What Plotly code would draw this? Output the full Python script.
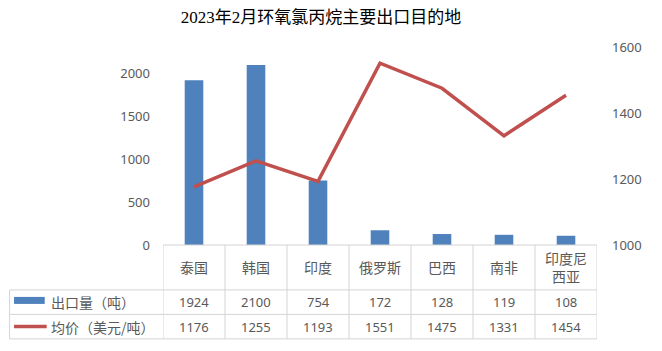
import plotly.graph_objects as go

title = "2023年2月环氧氯丙烷主要出口目的地"
categories = ["泰国", "韩国", "印度", "俄罗斯", "巴西", "南非", "印度尼西亚"]
category_labels = ["泰国", "韩国", "印度", "俄罗斯", "巴西", "南非", "印度尼<br>西亚"]
volume_name = "出口量（吨）"
price_name = "均价（美元/吨）"
volume = [1924, 2100, 754, 172, 128, 119, 108]
price = [1176, 1255, 1193, 1551, 1475, 1331, 1454]
left_ticks = [0, 500, 1000, 1500, 2000]
right_ticks = [1000, 1200, 1400, 1600]

OFF = 8  # page body margin
W, H = 662 - 2 * OFF, 351 - 2 * OFF
# page-pixel positions of the plot area
PL, PR = 162.5, 601.0
PT, PB = 46.7, 245.0
BLUE = "#4F81BD"
RED = "#C0504D"
GRID = "#D4D4D4"
TXT = "#595959"


def px(x):
    return (x - PL) / (PR - PL)


def py(y):
    return (PB - y) / (PB - PT)


xs = list(range(len(categories)))
fig = go.Figure()
fig.add_trace(go.Bar(x=xs, y=volume, name=volume_name, marker=dict(color=BLUE, line=dict(width=0)),
                     width=0.3, yaxis="y"))
fig.add_trace(go.Scatter(x=xs, y=price, name=price_name, mode="lines",
                         line=dict(color=RED, width=3.5), yaxis="y2"))

shapes = []
shapes.append(dict(type="line", xref="paper", yref="paper", x0=0, x1=1, y0=py(245), y1=py(245),
                   line=dict(color=GRID, width=1)))
for yy in [290, 314.5, 339]:
    shapes.append(dict(type="line", xref="paper", yref="paper", x0=px(7.5), x1=1, y0=py(yy), y1=py(yy),
                       line=dict(color=GRID, width=1)))
for k in range(len(categories) + 1):
    shapes.append(dict(type="line", xref="x", yref="paper", x0=k - 0.5, x1=k - 0.5, y0=py(245), y1=py(339),
                       line=dict(color=GRID, width=1)))
shapes.append(dict(type="line", xref="paper", yref="paper", x0=px(7.5), x1=px(7.5), y0=py(290), y1=py(339),
                   line=dict(color=GRID, width=1)))
shapes.append(dict(type="rect", xref="paper", yref="paper", x0=px(12), x1=px(43), y0=py(304), y1=py(297),
                   fillcolor=BLUE, line=dict(width=0)))
shapes.append(dict(type="line", xref="paper", yref="paper", x0=px(12), x1=px(45), y0=py(326.5), y1=py(326.5),
                   line=dict(color=RED, width=3.5)))

ann = []
for i, lab in enumerate(category_labels):
    ann.append(dict(x=i, y=py(267.5), xref="x", yref="paper", text=lab, showarrow=False,
                    font=dict(size=14, color=TXT, family="Noto Sans CJK SC"), xanchor="center", yanchor="middle"))
    ann.append(dict(x=i, y=py(302), xref="x", yref="paper", text=str(volume[i]), showarrow=False,
                    font=dict(size=13, color=TXT, family="Noto Sans"), xanchor="center", yanchor="middle"))
    ann.append(dict(x=i, y=py(327), xref="x", yref="paper", text=str(price[i]), showarrow=False,
                    font=dict(size=13, color=TXT, family="Noto Sans"), xanchor="center", yanchor="middle"))
ann.append(dict(x=px(47), y=py(302), xref="paper", yref="paper", text=volume_name, showarrow=False,
                font=dict(size=14, color=TXT, family="Noto Sans CJK SC"), xanchor="left", yanchor="middle"))
ann.append(dict(x=px(47), y=py(327), xref="paper", yref="paper", text=price_name, showarrow=False,
                font=dict(size=14, color=TXT, family="Noto Sans CJK SC"), xanchor="left", yanchor="middle"))

fig.update_layout(
    width=W, height=H, autosize=False,
    margin=dict(l=PL - OFF, r=W - (PR - OFF), t=PT - OFF, b=H - (PB - OFF), pad=0),
    paper_bgcolor="white", plot_bgcolor="white",
    showlegend=False,
    title=dict(text=title, x=(321 - OFF) / W, xanchor="center", y=1 - (17.5 - OFF) / H, yanchor="middle",
               font=dict(size=17, color="black", family="Liberation Serif, Noto Sans CJK SC")),
    xaxis=dict(range=[-0.5, len(categories) - 0.5], showticklabels=False, showgrid=False,
               zeroline=False, showline=False, ticks=""),
    yaxis=dict(range=[0, 2311], tickvals=left_ticks, showgrid=False, zeroline=False, showline=False,
               tickfont=dict(size=13, color=TXT, family="Noto Sans"), ticklabelstandoff=12),
    yaxis2=dict(range=[1000, 1600], tickvals=right_ticks, overlaying="y", side="right", showgrid=False,
                zeroline=False, showline=False, tickfont=dict(size=13, color=TXT, family="Noto Sans"),
                ticklabelstandoff=14),
    shapes=shapes, annotations=ann, bargap=0.7,
)
fig.write_html("out.html")
